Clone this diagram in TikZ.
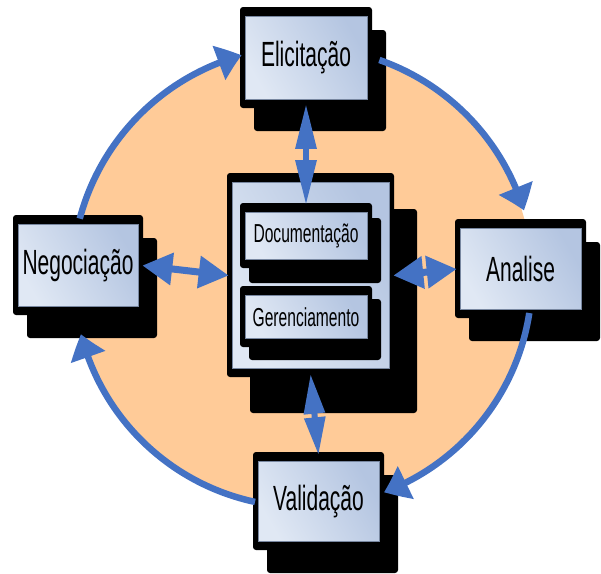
\documentclass[tikz,border=0pt]{standalone}
\usepackage{fontspec}
\newfontfamily\boxfnt[FakeStretch=0.6]{Liberation Sans}
\usetikzlibrary{arrows.meta,bending,calc}
\definecolor{peach}{RGB}{255,203,152}
\definecolor{arrblue}{RGB}{68,114,196}
\definecolor{boxL}{RGB}{224,232,244}
\definecolor{boxR}{RGB}{180,197,225}
\definecolor{boxedge}{RGB}{120,135,160}
\newcommand\monbox[9]{%
  \fill[black,rounded corners=3pt] ({#2+#6},{#3+#7}) rectangle ({#4+#6},{#5+#7});
  \fill[black,rounded corners=3pt] (#2,#3) rectangle (#4,#5);
  \node[inbox,#8,minimum width={(#4-#2-10)*1pt},minimum height={(#5-#3-18)*1pt}] (#1) at ({(#2+#4)/2},{(#3+#5)/2+0.5}) {#9};
}
\begin{document}
\begin{tikzpicture}[x=1pt,y=-1pt,
  inbox/.style={draw=boxedge,line width=0.6pt,left color=boxL,right color=boxR,shading angle=120,inner sep=0pt,text=black},
  bigtxt/.style={font=\boxfnt\fontsize{35}{40}\selectfont},
  smalltxt/.style={font=\boxfnt\fontsize{26}{30}\selectfont},
  cyc/.style={draw=arrblue,line width=6.5pt,-{Triangle[length=24pt,width=35pt,bend]}},
  dblh/.style={draw=arrblue,line width=7pt,{Triangle[length=30pt,width=31pt]}-{Triangle[length=30pt,width=31pt]}},
  dblv/.style={draw=arrblue,line width=6pt,{Triangle[length=45pt,width=20pt]}-{Triangle[length=45pt,width=20pt]}},
  dblv2/.style={draw=arrblue,line width=6pt,{Triangle[length=40pt,width=20pt]}-{Triangle[length=38pt,width=20pt]}}
]
\useasboundingbox (0,0) rectangle (601,573);
\coordinate (O) at (303,278);
\fill[peach] (O) circle[radius=229];

\monbox{elic}{240}{7}{372}{108}{14}{23}{bigtxt}{Elicitação}
\monbox{neg}{13}{215}{143}{315}{14}{23}{bigtxt}{Negociação}
\monbox{ana}{455}{219}{586}{318}{14}{23}{bigtxt}{Analise}
\monbox{val}{253}{452}{384}{550}{14}{23}{bigtxt}{Validação}
\monbox{cen}{227}{173}{394}{377}{23}{36}{bigtxt}{}
\monbox{doc}{240}{203}{372}{268}{9}{15}{smalltxt}{Documentação}
\monbox{ger}{240}{286}{372}{347}{9}{13}{smalltxt}{Gerenciamento}

\draw[cyc] ($(O)+(194.9:231)$) arc[start angle=194.9,end angle=254.6,radius=231];
\draw[cyc] ($(O)+(289.3:231)$) arc[start angle=289.3,end angle=343,radius=231];
\draw[cyc] ($(O)+(8.8:229)$) arc[start angle=8.8,end angle=69.3,radius=229];
\draw[cyc] ($(O)+(102.1:229)$) arc[start angle=102.1,end angle=165.8,radius=229];

\draw[dblh] ([xshift=4pt]neg.east) -- ([xshift=-3pt]cen.west);
\draw[dblh] ([xshift=4pt]cen.east) -- ([xshift=-3pt]ana.west);
\draw[dblv] ([yshift=-4pt]elic.south) -- ([yshift=7pt]doc.north);
\draw[dblv2] ([yshift=-5pt]cen.south) -- ([yshift=6pt]val.north);
\end{tikzpicture}
\end{document}
